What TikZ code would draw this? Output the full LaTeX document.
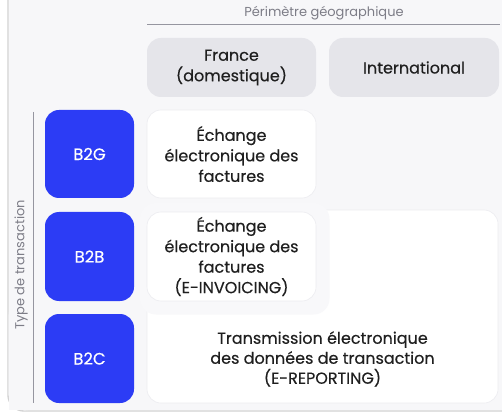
\documentclass[tikz,border=0pt]{standalone}
\usepackage{fontspec}
\setmainfont{Poppins}
\newfontfamily\boldishfont[FakeBold=0.35]{Poppins}
\begin{document}
\begin{tikzpicture}[x=1pt,y=-1pt,
  hdr/.style={fill=hdrgray, rounded corners=14pt, align=center, font=\boldishfont\fontsize{16}{20.5}\selectfont, text=black!88},
  cell/.style={fill=white, draw=cellborder, line width=0.6pt, rounded corners=14pt, align=center, font=\boldishfont\fontsize{16}{20.5}\selectfont, text=black!88},
  typebox/.style={fill=bluebox, rounded corners=14pt, text=white, font=\boldishfont\fontsize{16.5}{19}\selectfont},
  axis/.style={draw=axisgray, line width=0.8pt},
  axislabel/.style={text=labelgray, font=\fontsize{13}{15}\selectfont}
]
\definecolor{panelbg}{RGB}{247,247,249}
\definecolor{hdrgray}{RGB}{229,229,234}
\definecolor{cellborder}{RGB}{236,236,240}
\definecolor{bluebox}{RGB}{44,60,245}
\definecolor{axisgray}{RGB}{150,150,160}
\definecolor{labelgray}{RGB}{125,125,135}
\useasboundingbox (0,0) rectangle (502,419);
% panel
\fill[white] (0,0) rectangle (502,419);
\draw[draw=black!18, line width=1.4pt, rounded corners=16pt] (8,-20) -- (8,411) -- (520,411);
\fill[panelbg] (8.7,-20) rectangle (520,410.3);
\fill[panelbg, rounded corners=15pt] (8.7,300) rectangle (40,410.3);
% header
\node[axislabel] (perim) at (324,13) {Périmètre géographique};
\draw[axis] (147,24) -- (500,24);
\node[hdr, minimum width=169pt, minimum height=59pt] (fr) at (231.5,67.5) {France\\(domestique)};
\node[hdr, minimum width=170pt, minimum height=59pt] (intl) at (414,67.5) {International};
% side axis
\coordinate (axtop) at (33,112);
\coordinate (axbot) at (33,403);
\draw[axis] (axtop) -- (axbot);
\node[axislabel, rotate=90] (ttrans) at (21,265) {Type de transaction};
% type boxes
\node[typebox, minimum width=89pt, minimum height=88pt] (b2g) at (89.5,154) {B2G};
\node[typebox, minimum width=89pt, minimum height=89pt] (b2b) at (89.5,256.5) {B2B};
\node[typebox, minimum width=89pt, minimum height=89pt] (b2c) at (89.5,358.5) {B2C};
% cells
\node[cell, minimum width=169pt, minimum height=88pt] (c1) at (231.5,154) {Échange\\électronique des\\factures};
% L-shaped reporting area
\fill[white] [rounded corners=14pt] (147,210) rectangle (498,403);
\draw[cellborder, line width=0.6pt, rounded corners=14pt] (147,210) rectangle (498,403);
\fill[panelbg!85!white, rounded corners=16pt] (140,203) rectangle (329.5,314.5);
\node[cell, minimum width=169pt, minimum height=89pt] (c2) at (231.5,256.5) {Échange\\électronique des\\factures\\(E-INVOICING)};
\node[align=center, font=\boldishfont\fontsize{16}{20}\selectfont, text=black!88] (c3) at (322.5,359) {Transmission électronique\\des données de transaction\\(E-REPORTING)};
\end{tikzpicture}
\end{document}
